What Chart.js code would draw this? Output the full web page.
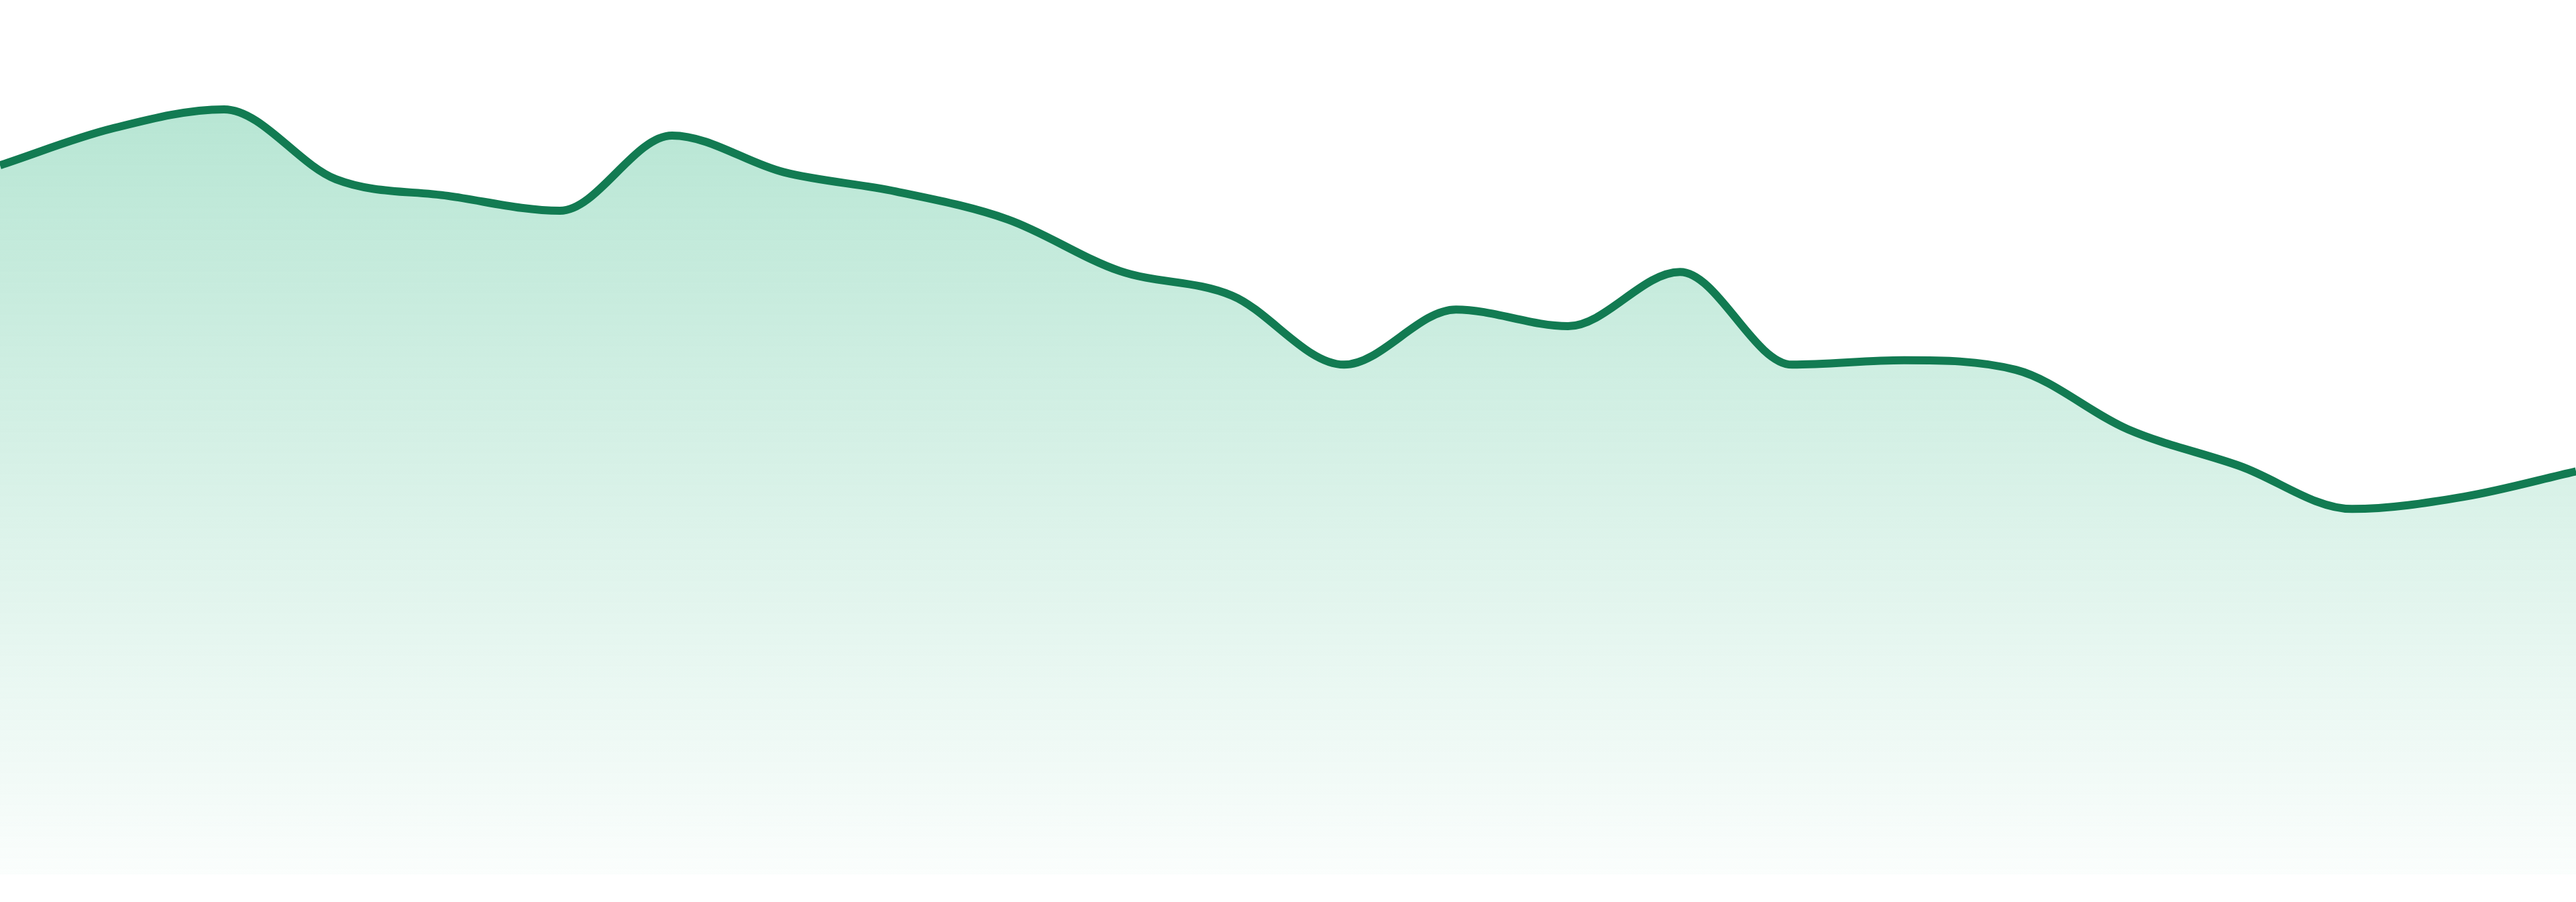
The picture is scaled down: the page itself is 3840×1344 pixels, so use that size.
<!DOCTYPE html>
<html>
<head>
<meta charset="utf-8">
<script src="https://cdn.jsdelivr.net/npm/chart.js@4"></script>
<style>
  html, body { margin: 0; padding: 0; background: #fff; }
  .wrap { width: 3840px; height: 1344px; position: relative; }
</style>
</head>
<body>
<div class="wrap"><canvas id="trendChart"></canvas></div>
<script>
// ── Data ──
const labels = ['1', '2', '3', '4', '5', '6', '7', '8', '9', '10', '11', '12',
                '13', '14', '15', '16', '17', '18', '19', '20', '21', '22', '23', '24'];
const values = [81.1, 85.3, 87.5, 79.5, 77.6, 75.9, 84.5, 80.3, 78.1, 74.9, 69.0, 66.2,
                58.3, 64.6, 62.7, 68.9, 58.3, 58.8, 57.7, 50.9, 46.7, 41.8, 43.2, 46.1];
const yMin = 0;
const yMax = 100;

// ── Fill gradient ──
function areaFill(context) {
  const area = context.chart.chartArea;
  if (!area) return 'rgba(18,172,112,0.2)';
  const g = context.chart.ctx.createLinearGradient(0, area.top, 0, area.bottom);
  g.addColorStop(0, 'rgba(18,172,112,0.34)');
  g.addColorStop(1, 'rgba(18,172,112,0.02)');
  return g;
}

new Chart(document.getElementById('trendChart'), {
  type: 'line',
  data: {
    labels: labels,
    datasets: [{
      data: values,
      borderColor: '#127b52',
      borderWidth: 12,
      backgroundColor: areaFill,
      fill: 'start',
      pointRadius: 0,
      cubicInterpolationMode: 'monotone'
    }]
  },
  options: {
    responsive: true,
    maintainAspectRatio: false,
    animation: false,
    layout: { padding: { left: 0, right: 0, top: 0, bottom: 41 } },
    plugins: { legend: { display: false }, tooltip: { enabled: false } },
    scales: {
      x: { display: false },
      y: { display: false, min: yMin, max: yMax }
    }
  }
});
</script>
</body>
</html>
